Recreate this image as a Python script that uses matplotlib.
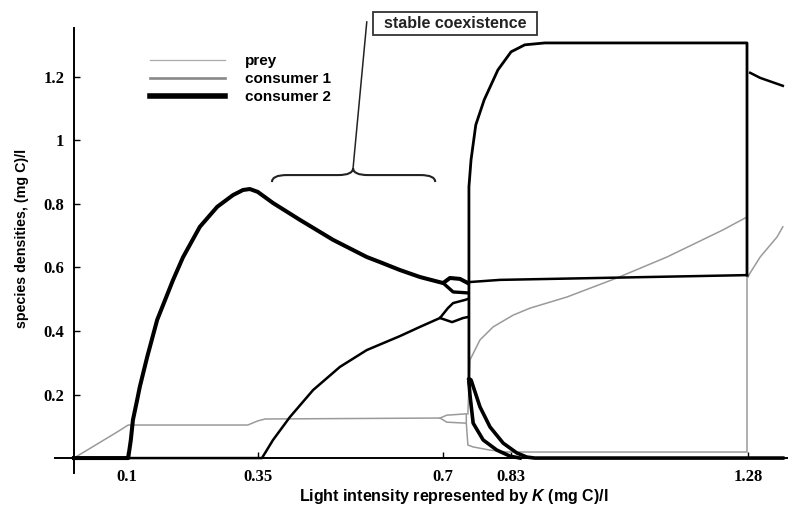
import numpy as np
import matplotlib
matplotlib.use('Agg')
import matplotlib.pyplot as plt
from matplotlib.lines import Line2D
from matplotlib.path import Path
from matplotlib.patches import PathPatch, Rectangle

plt.rcParams['mathtext.fontset'] = 'custom'
plt.rcParams['mathtext.it'] = 'Liberation Sans:bold:italic'
plt.rcParams['mathtext.rm'] = 'Liberation Sans:bold'

# ---- data (K in (mg C)/l, density in (mg C)/l) ----
# prey (thin grey)
prey_k = [0.0, 0.082, 0.103, 0.330, 0.349, 0.363, 0.695, 0.708, 0.743]
prey_v = [0.0, 0.082, 0.104, 0.104, 0.117, 0.123, 0.126, 0.135, 0.139]
prey_lo_k = [0.695, 0.708, 0.743]
prey_lo_v = [0.126, 0.113, 0.110]
prey_min_k = [0.745, 0.745, 0.748, 0.758, 0.790, 0.822, 1.278, 1.278]
prey_min_v = [0.139, 0.110, 0.041, 0.035, 0.025, 0.019, 0.019, 0.759]
prey_max_k = [0.748, 0.752, 0.771, 0.796, 0.834, 0.866, 0.936, 1.031, 1.126, 1.232, 1.278]
prey_max_v = [0.139, 0.309, 0.372, 0.413, 0.450, 0.472, 0.507, 0.567, 0.633, 0.718, 0.759]
prey_end_k = [1.280, 1.284, 1.303, 1.335, 1.346]
prey_end_v = [0.570, 0.583, 0.633, 0.696, 0.728]

# consumer 1 (medium black)
c1_k = [0.0, 0.357, 0.378, 0.410, 0.454, 0.505, 0.556, 0.619, 0.657, 0.695, 0.710, 0.720, 0.743, 0.748]
c1_v = [0.0, 0.0, 0.057, 0.129, 0.214, 0.287, 0.340, 0.384, 0.413, 0.441, 0.472, 0.488, 0.498, 0.501]
c1_lo_k = [0.695, 0.718, 0.739, 0.748]
c1_lo_v = [0.441, 0.428, 0.441, 0.444]

# consumer 2 (thick black)
c2_k = [0.0, 0.103, 0.108, 0.112, 0.120, 0.125, 0.139, 0.158, 0.188, 0.207, 0.239, 0.272,
        0.302, 0.321, 0.334, 0.349, 0.378, 0.429, 0.492, 0.556, 0.581, 0.619, 0.657,
        0.701, 0.714, 0.733, 0.748]
c2_v = [0.0, 0.0, 0.057, 0.120, 0.183, 0.224, 0.318, 0.435, 0.560, 0.632, 0.728, 0.791,
        0.828, 0.844, 0.847, 0.838, 0.803, 0.750, 0.687, 0.633, 0.617, 0.592, 0.570,
        0.551, 0.567, 0.564, 0.551]
c2_lo_k = [0.701, 0.720, 0.748]
c2_lo_v = [0.551, 0.523, 0.520]

# oscillation envelope for K > 0.75
box_top_k = [0.750, 0.750, 0.754, 0.763, 0.779, 0.805, 0.830, 0.856, 0.894, 1.278, 1.278]
box_top_v = [0.236, 0.854, 0.939, 1.049, 1.128, 1.222, 1.279, 1.301, 1.307, 1.307, 0.576]
box_low_k = [0.750, 0.809, 1.278]
box_low_v = [0.554, 0.561, 0.576]
top_end_k = [1.284, 1.303, 1.346]
top_end_v = [1.213, 1.197, 1.172]
drop_a_k = [0.750, 0.754, 0.771, 0.790, 0.815, 0.841, 0.860, 0.875, 1.346]
drop_a_v = [0.250, 0.246, 0.161, 0.098, 0.047, 0.016, 0.003, 0.0, 0.0]
drop_b_k = [0.750, 0.752, 0.758, 0.777, 0.803, 0.828, 0.847]
drop_b_v = [0.240, 0.198, 0.110, 0.057, 0.025, 0.006, 0.0]

xtick_vals = [0.1, 0.35, 0.7, 0.83, 1.28]
xtick_labels = ['0.1', '0.35', '0.7', '0.83', '1.28']
ytick_vals = [0.2, 0.4, 0.6, 0.8, 1.0, 1.2]
ytick_labels = ['0.2', '0.4', '0.6', '0.8', '1', '1.2']

fig = plt.figure(figsize=(7.89, 5.13), dpi=100)
ax = fig.add_axes([0.0697, 0.078, 0.9278, 0.8674])

grey = '#9a9a9a'
ax.plot(prey_k, prey_v, color=grey, lw=1.1, zorder=2)
ax.plot(prey_lo_k, prey_lo_v, color=grey, lw=1.1, zorder=2)
ax.plot(prey_min_k, prey_min_v, color=grey, lw=1.1, zorder=2)
ax.plot(prey_max_k, prey_max_v, color=grey, lw=1.1, zorder=2)
ax.plot(prey_end_k, prey_end_v, color=grey, lw=1.1, zorder=2)

ax.plot(c1_k, c1_v, color='black', lw=1.8, zorder=3)
ax.plot(c1_lo_k, c1_lo_v, color='black', lw=1.8, zorder=3)

ax.plot(c2_k, c2_v, color='black', lw=2.9, zorder=4, solid_joinstyle='round')
ax.plot(c2_lo_k, c2_lo_v, color='black', lw=2.4, zorder=4)

ax.plot(box_top_k, box_top_v, color='black', lw=2.0, zorder=4)
ax.plot(box_low_k, box_low_v, color='black', lw=1.8, zorder=4)
ax.plot(top_end_k, top_end_v, color='black', lw=1.8, zorder=4)
ax.plot(drop_a_k, drop_a_v, color='black', lw=2.6, zorder=4)
ax.plot(drop_b_k, drop_b_v, color='black', lw=2.6, zorder=4)

# axes through the origin
ax.set_xlim(-0.036, 1.354)
ax.set_ylim(-0.047, 1.354)
ax.spines['left'].set_position(('data', 0))
ax.spines['bottom'].set_position(('data', 0))
ax.spines['top'].set_visible(False)
ax.spines['right'].set_visible(False)
ax.spines['left'].set_linewidth(1.4)
ax.spines['bottom'].set_linewidth(1.4)
ax.spines['left'].set_bounds(-0.047, 1.354)
ax.spines['bottom'].set_bounds(-0.036, 1.354)

ax.set_xticks(xtick_vals)
ax.set_xticklabels(xtick_labels)
ax.set_yticks(ytick_vals)
ax.set_yticklabels(ytick_labels)
ax.tick_params(direction='in', length=4, width=1)
ax.tick_params(axis='x', pad=8)
ax.tick_params(axis='y', pad=7)
for lab in ax.get_xticklabels() + ax.get_yticklabels():
    lab.set_fontfamily('Liberation Serif')
    lab.set_fontweight('bold')
    lab.set_fontsize(12)

fig.text(454 / 789, 1 - 497 / 513, r'Light intensity represented by $K$ (mg C)/l',
         ha='center', va='center', fontsize=11.5, fontweight='bold', family='Liberation Sans')
fig.text(22 / 789, 1 - 238 / 513, 'species densities, (mg C)/l', rotation=90,
         ha='center', va='center', fontsize=10.3, fontweight='bold', family='Liberation Sans')

# legend
handles = [Line2D([], [], color='#aaaaaa', lw=0.9),
           Line2D([], [], color='#888888', lw=1.9),
           Line2D([], [], color='black', lw=4.0)]
fig.legend(handles, ['prey', 'consumer 1', 'consumer 2'], loc='upper left',
           bbox_to_anchor=(150 / 789, 1 - 54 / 513), frameon=False, borderpad=0,
           borderaxespad=0, handlelength=4.9, handletextpad=1.3, labelspacing=0.26,
           prop={'family': 'Liberation Sans', 'weight': 'bold', 'size': 11})

# brace over the coexistence range
x0, x1, xm = 0.376, 0.686, 0.530
y_end, y_flat, y_cusp = 0.869, 0.891, 0.913
r = 0.028
verts = [(x0, y_end), (x0, y_flat), (x0 + r, y_flat), (xm - r, y_flat),
         (xm, y_flat), (xm, y_cusp), (xm, y_flat), (xm + r, y_flat),
         (x1 - r, y_flat), (x1, y_flat), (x1, y_end)]
codes = [Path.MOVETO, Path.CURVE3, Path.CURVE3, Path.LINETO,
         Path.CURVE3, Path.CURVE3, Path.CURVE3, Path.CURVE3,
         Path.LINETO, Path.CURVE3, Path.CURVE3]
ax.add_patch(PathPatch(Path(verts, codes), fill=False, lw=1.5, color='#222222', clip_on=False))
ax.plot([xm, 0.556], [y_cusp, 1.373], color='#222222', lw=1.1, clip_on=False)

fig.patches.append(Rectangle((373 / 789, 1 - 35 / 513), 164 / 789, 23 / 513,
                             transform=fig.transFigure, fill=False, lw=1.3,
                             edgecolor='#333333'))
fig.text(455 / 789, 1 - 24 / 513, 'stable coexistence', ha='center', va='center',
         fontsize=11.5, fontweight='bold', family='Liberation Sans', color='#222222')

fig.savefig('out.png', dpi=100)
